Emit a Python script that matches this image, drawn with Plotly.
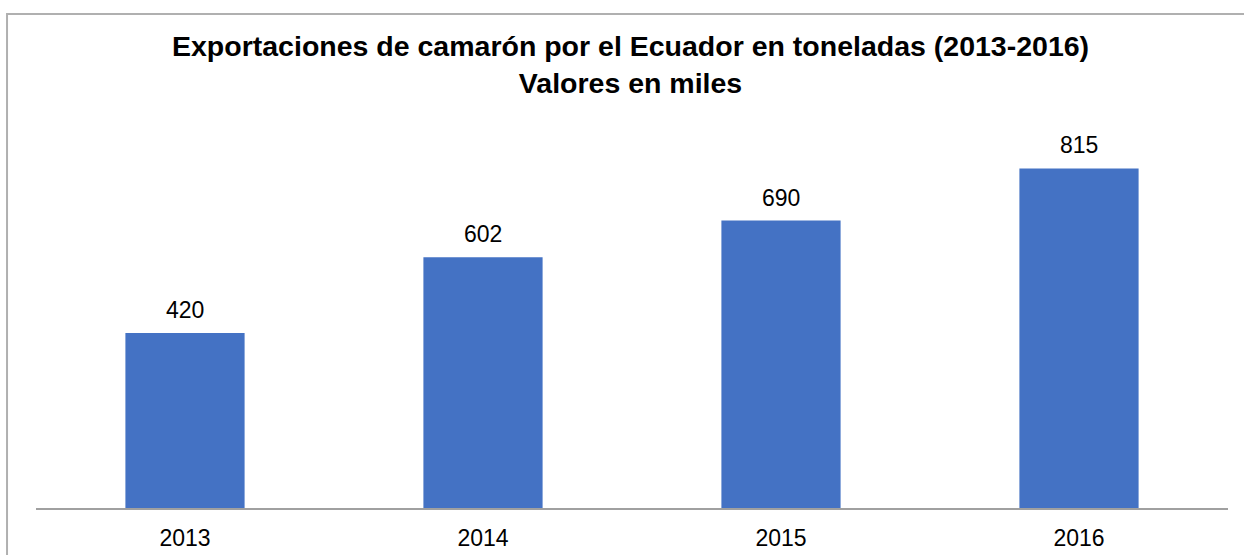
import plotly.graph_objects as go

years = ["2013", "2014", "2015", "2016"]
exports = [420, 602, 690, 815]

title_lines = [
    "Exportaciones de camarón por el Ecuador en toneladas (2013-2016)",
    "Valores en miles",
]

fig = go.Figure()
fig.add_trace(
    go.Bar(
        x=years,
        y=exports,
        marker=dict(color='#4472C4', line=dict(width=0)),
        showlegend=False,
        hoverinfo='x+y'
    )
)

# value labels above each bar (category axis -> use the category index,
# since "2013" would otherwise be read as index 2013)
for i, value in enumerate(exports):
    fig.add_annotation(
        x=i, y=value, text=str(value),
        showarrow=False, yanchor='bottom', yshift=8,
        font=dict(family='Liberation Sans, Arial', size=23, color='#000000')
    )

# chart title, placed as an annotation so both lines sit where they should
fig.add_annotation(
    xref='paper', yref='paper', x=0.4985, y=1.28,
    xanchor='center', yanchor='top', showarrow=False,
    text="<b>" + "<br>".join(title_lines) + "</b>",
    font=dict(family='Liberation Sans, Arial', size=28.5, color='#000000')
)

# outer chart border (cut off at right and bottom, like the source)
fig.add_shape(
    type='rect', xref='paper', yref='paper',
    x0=-0.0243, x1=1.02, y0=-0.16, y1=1.3173,
    line=dict(color='#b0b0b0', width=2),
    fillcolor='rgba(0,0,0,0)', layer='below'
)

fig.update_layout(
    width=1244,
    height=555,
    margin=dict(l=36, r=16, t=133, b=47),
    paper_bgcolor='white',
    plot_bgcolor='white',
    bargap=0.6,
    font=dict(family='Liberation Sans, Arial', color='#000000'),
    xaxis=dict(
        type='category',
        range=[-0.5, len(years) - 0.5],
        automargin=False,
        showline=True,
        linecolor='#a0a0a0',
        linewidth=1.5,
        ticks='',
        showgrid=False,
        tickfont=dict(size=23),
        ticklabelstandoff=9
    ),
    yaxis=dict(
        range=[0, 900],
        visible=False,
        automargin=False,
        showgrid=False,
        zeroline=False
    )
)

# drop the default page margin so the figure sits flush in the window
fig.write_html(
    "out.html",
    config={'displayModeBar': False},
    post_script="document.body.style.margin='0';document.body.style.overflow='hidden';"
)
